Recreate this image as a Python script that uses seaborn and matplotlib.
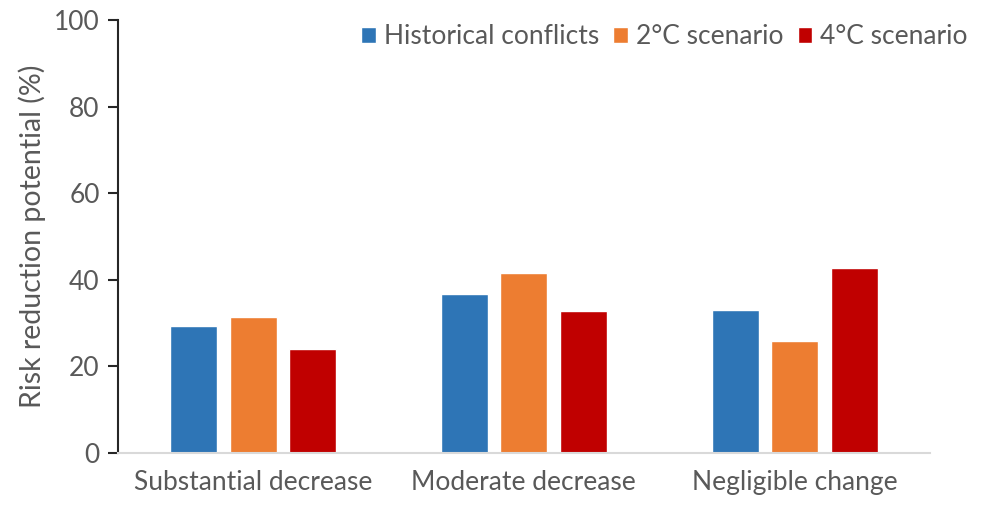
import pandas as pd
import matplotlib.pyplot as plt
import seaborn as sns

# ---------------------------------------
# Chart data
# ---------------------------------------

categories = ["Substantial decrease", "Moderate decrease", "Negligible change"]
series = ["Historical conflicts", "2°C scenario", "4°C scenario"]
historical = [29.3, 36.8, 33.0]
scenario_2c = [31.5, 41.6, 25.9]
scenario_4c = [23.9, 32.7, 42.8]
colors = ["#2e75b6", "#ed7d31", "#c00000"]

df = pd.DataFrame({
    "category": categories * 3,
    "series": [s for s in series for _ in categories],
    "value": historical + scenario_2c + scenario_4c,
})

# ---------------------------------------
# Plot
# ---------------------------------------

sns.set_style("white")
plt.rcParams["font.family"] = ["Lato", "DejaVu Sans"]
text_color = "#595959"

fig = plt.figure(figsize=(9.81, 5.11), dpi=100)
ax = fig.add_axes([0.120, 0.1135, 0.828, 0.8475])

sns.barplot(data=df, x="category", y="value", hue="series",
            palette=colors, width=0.66, gap=0.21, ax=ax, saturation=1)

ax.set_ylim(0, 100)
ax.set_yticks(range(0, 101, 20))
ax.set_xlabel("")
ax.set_ylabel("Risk reduction potential (%)", fontsize=20.5, color=text_color, labelpad=6)
ax.tick_params(axis="y", direction="out", length=7, width=1.5, color="#262626",
               labelsize=19, labelcolor=text_color, left=True, pad=6)
ax.tick_params(axis="x", length=0, labelsize=19, labelcolor=text_color, pad=12)

for side in ["top", "right"]:
    ax.spines[side].set_visible(False)
ax.spines["left"].set_color("#262626")
ax.spines["left"].set_linewidth(1.5)
ax.spines["bottom"].set_color("#d9d9d9")
ax.spines["bottom"].set_linewidth(1.5)

ax.legend(loc="upper right", bbox_to_anchor=(1.0, 0.978), bbox_transform=fig.transFigure,
          ncol=3, frameon=False, fontsize=19, labelcolor=text_color,
          handlelength=0.55, handleheight=0.55, handletextpad=0.3, columnspacing=0.55,
          borderaxespad=0.1)

fig.savefig("out.png", dpi=100)
